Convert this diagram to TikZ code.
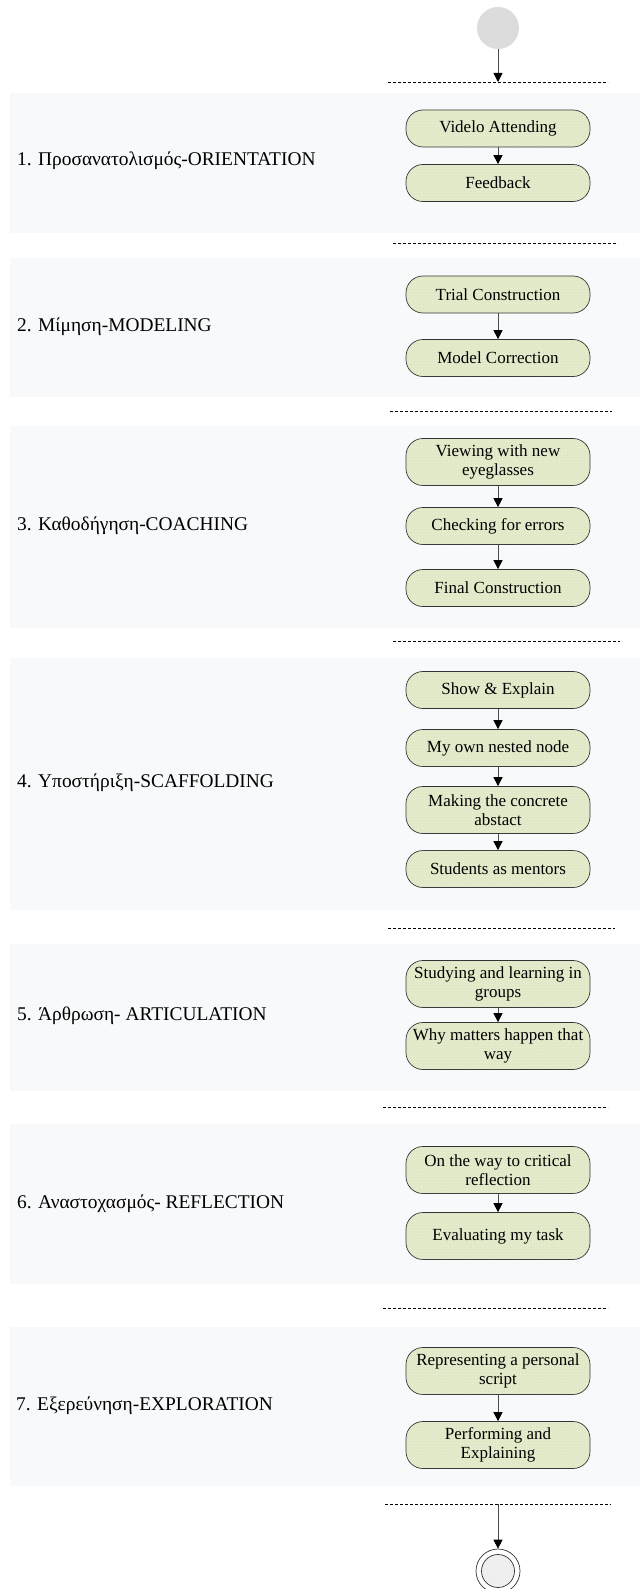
\documentclass[tikz,border=0pt]{standalone}
\usepackage{fontspec}
\setmainfont{Liberation Serif}
\usetikzlibrary{arrows.meta,patterns}
\definecolor{panelbg}{HTML}{F8F9FA}
\definecolor{actfill}{HTML}{E4EBC9}
\definecolor{actdots}{HTML}{C9D2D4}
\definecolor{startgray}{HTML}{DCDCDC}
\definecolor{endgray}{HTML}{EFEFEF}
\begin{document}
\begin{tikzpicture}[x=1pt,y=-1pt,
  panel/.style={fill=panelbg},
  activity/.style={draw=black!80, line width=0.7pt, fill=actfill,
    postaction={pattern=dots, pattern color=actdots},
    rounded corners=17pt, minimum width=184pt, minimum height=37pt,
    align=center, inner sep=2pt, font=\fontsize{17}{19}\selectfont},
  twoline/.style={activity, minimum height=47pt},
  phase/.style={anchor=west, inner sep=0pt, font=\fontsize{19.4}{22}\selectfont},
  flow/.style={draw=black!70, line width=0.8pt,
    -{Triangle[width=9pt,length=9pt,color=black]}},
  sep/.style={draw=black, line width=0.6pt, dash pattern=on 3pt off 2pt}
]
\fill[white] (0,0) rectangle (640,1589);
\useasboundingbox (0,0) rectangle (640,1589);

% swimlane panels
\fill[panel] (10,93) rectangle (640,233);
\fill[panel] (10,258) rectangle (640,397);
\fill[panel] (10,426) rectangle (640,628);
\fill[panel] (10,658) rectangle (640,910);
\fill[panel] (10,944) rectangle (640,1091);
\fill[panel] (10,1124) rectangle (640,1284);
\fill[panel] (10,1327) rectangle (640,1486);

% dashed lane separators
\draw[sep] (388,82) -- (608,82);
\draw[sep] (393,243) -- (618,243);
\draw[sep] (390,411) -- (612,411);
\draw[sep] (393,641) -- (620,641);
\draw[sep] (388,928) -- (615,928);
\draw[sep] (383,1107) -- (608,1107);
\draw[sep] (383,1308) -- (608,1308);
\draw[sep] (385,1504) -- (611,1504);

% phase labels
\node[phase] (l1) at (17,161) {1. Προσανατολισμός-ORIENTATION};
\node[phase] (l2) at (17,327) {2. Μίμηση-MODELING};
\node[phase] (l3) at (17,526) {3. Καθοδήγηση-COACHING};
\node[phase] (l4) at (17,783) {4. Υποστήριξη-SCAFFOLDING};
\node[phase] (l5) at (17,1016) {5. Άρθρωση- ARTICULATION};
\node[phase] (l6) at (17,1204) {6. Αναστοχασμός- REFLECTION};
\node[phase] (l7) at (16,1406) {7. Εξερεύνηση-EXPLORATION};

% start and end states
\node[circle, fill=startgray, minimum size=42pt, inner sep=0pt] (start) at (498,28) {};
\coordinate (s0) at (498,82);
\coordinate (e0) at (498,1504);
\node[circle, draw=black!80, line width=0.7pt, fill=white, minimum size=44pt, inner sep=0pt] (finish) at (498,1571) {};
\node[circle, draw=black!80, line width=0.7pt, fill=endgray, minimum size=33pt, inner sep=0pt] (finishin) at (498,1571) {};

% activities
\node[activity] (a1) at (498,128.5) {Videlo Attending};
\node[activity] (a2) at (498,183) {Feedback};

\node[activity] (b1) at (498,294.5) {Trial Construction};
\node[activity] (b2) at (498,358) {Model Correction};

\node[twoline] (c1) at (498,462) {Viewing with new\\eyeglasses};
\node[activity] (c2) at (498,526) {Checking for errors};
\node[activity] (c3) at (498,588) {Final Construction};

\node[activity] (d1) at (498,690) {Show \& Explain};
\node[activity] (d2) at (498,748) {My own nested node};
\node[twoline] (d3) at (498,810) {Making the concrete\\abstact};
\node[activity] (d4) at (498,869) {Students as mentors};

\node[twoline] (f1) at (498,984) {Studying and learning in\\groups};
\node[twoline] (f2) at (498,1046) {Why matters happen that\\way};

\node[twoline] (g1) at (498,1170) {On the way to critical\\reflection};
\node[twoline] (g2) at (498,1236) {Evaluating my task};

\node[twoline] (h1) at (498,1371) {Representing a personal\\script};
\node[twoline] (h2) at (498,1445) {Performing and\\Explaining};

% control flow
\draw[flow] (start) -- (s0);
\draw[flow] (a1) -- (a2);
\draw[flow] (b1) -- (b2);
\draw[flow] (c1) -- (c2);
\draw[flow] (c2) -- (c3);
\draw[flow] (d1) -- (d2);
\draw[flow] (d2) -- (d3);
\draw[flow] (d3) -- (d4);
\draw[flow] (f1) -- (f2);
\draw[flow] (g1) -- (g2);
\draw[flow] (h1) -- (h2);
\draw[flow] (e0) -- (finish);
\end{tikzpicture}
\end{document}
